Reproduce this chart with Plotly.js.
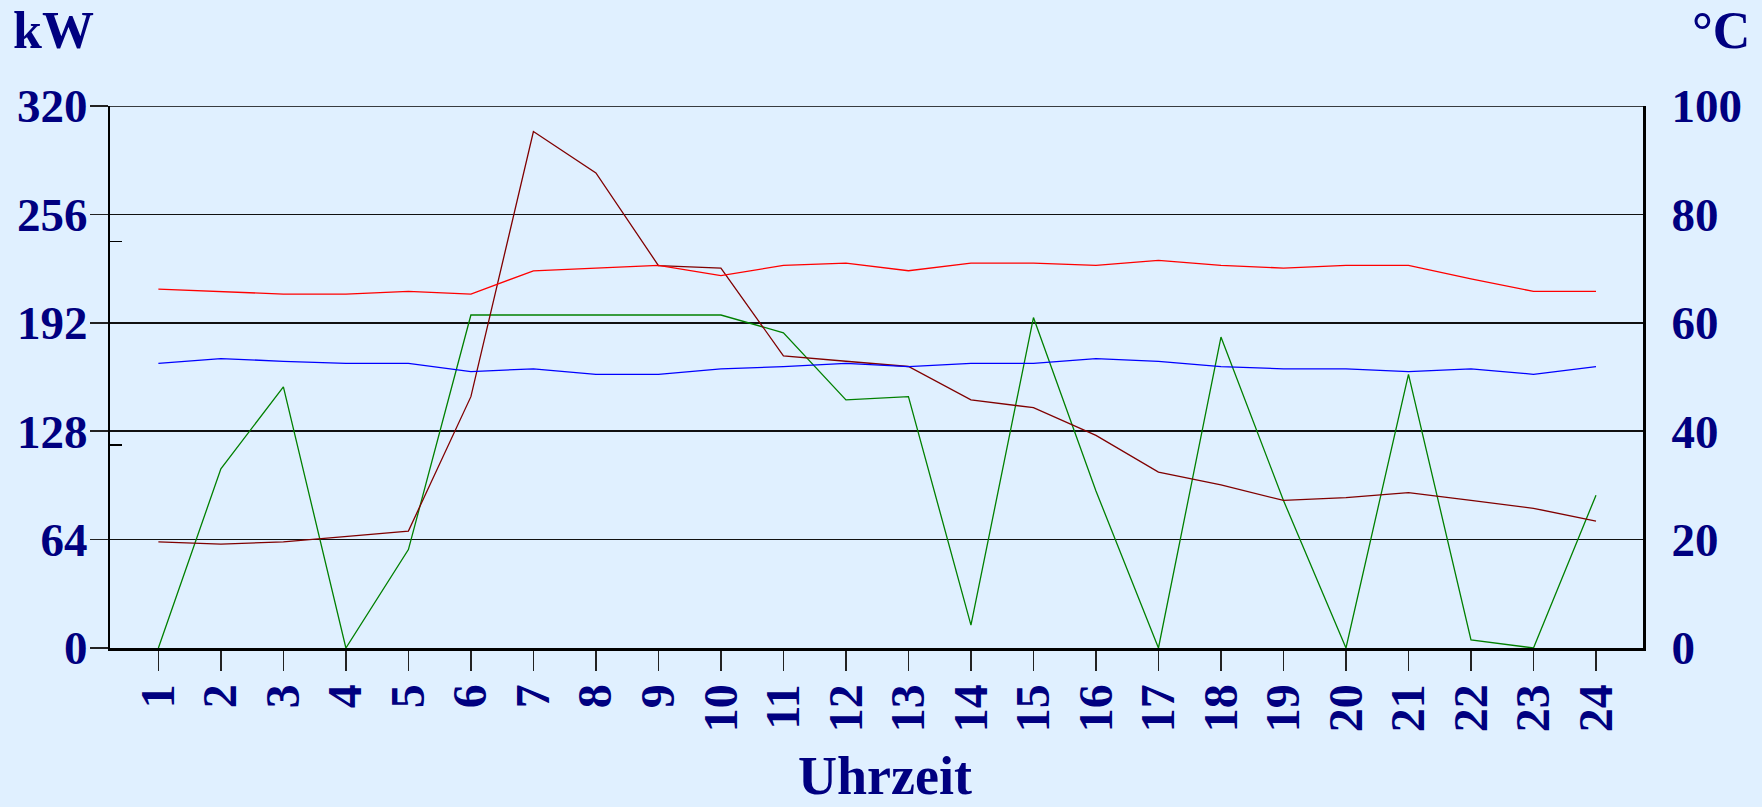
<!DOCTYPE html>
<html>
<head>
<meta charset="utf-8">
<script src="https://cdn.plot.ly/plotly-3.0.1.min.js"></script>
<style>
  html, body { margin: 0; padding: 0; background: #E0F0FF; }
  #chart { width: 1762px; height: 807px; }
</style>
</head>
<body>
<div id="chart"></div>
<script>
// ---- data ----
const hours = [1, 2, 3, 4, 5, 6, 7, 8, 9, 10, 11, 12, 13, 14, 15, 16, 17, 18, 19, 20, 21, 22, 23, 24];
const hourLabels = ["1","2","3","4","5","6","7","8","9","10","11","12","13","14","15","16","17","18","19","20","21","22","23","24"];

// kW (left axis)
const powerDarkRed = [62.7, 61.3, 62.7, 65.9, 69.0, 148.4, 304.9, 280.5, 225.8, 224.3, 172.5, 169.3,
                      166.2, 146.5, 141.9, 125.5, 103.9, 96.3, 87.1, 88.8, 91.7, 87.1, 82.5, 74.9];
const powerGreen = [0, 105.8, 154.2, 0, 58.1, 196.6, 196.6, 196.6, 196.6, 196.6, 186.1, 146.5,
                    148.4, 13.5, 195.1, 92.7, 0, 183.6, 87.1, 0, 161.6, 4.8, 0, 90.2];

// °C (right axis)
const tempRed = [66.2, 65.8, 65.3, 65.3, 65.8, 65.3, 69.6, 70.1, 70.6, 68.7, 70.6, 71.0,
                 69.6, 71.0, 71.0, 70.6, 71.5, 70.6, 70.1, 70.6, 70.6, 68.1, 65.8, 65.8];
const tempBlue = [52.5, 53.4, 52.9, 52.5, 52.5, 51.0, 51.5, 50.5, 50.5, 51.5, 51.9, 52.5,
                  51.9, 52.5, 52.5, 53.4, 52.9, 51.9, 51.5, 51.5, 51.0, 51.5, 50.5, 51.9];

const kwTicks = [0, 64, 128, 192, 256, 320];
const kwTickLabels = ["0", "64", "128", "192", "256", "320"];
const kwMinorTicks = [120, 240];
const kwMax = 320;
const degTicks = [0, 20, 40, 60, 80, 100];
const degTickLabels = ["0", "20", "40", "60", "80", "100"];

const unitLeft = "kW";
const unitRight = "°C";
const xTitle = "Uhrzeit";

// ---- chart ----
const NAVY = "#000080";
const FONT = "Liberation Serif, Times New Roman, serif";

const traces = [
  { x: hours, y: tempRed,  yaxis: "y2", mode: "lines", line: { color: "#FF0000", width: 1.3 }, hoverinfo: "skip" },
  { x: hours, y: tempBlue, yaxis: "y2", mode: "lines", line: { color: "#0000FF", width: 1.3 }, hoverinfo: "skip" },
  { x: hours, y: powerGreen, yaxis: "y", mode: "lines", line: { color: "#008000", width: 1.3 }, hoverinfo: "skip" },
  { x: hours, y: powerDarkRed, yaxis: "y", mode: "lines", line: { color: "#800000", width: 1.3 }, hoverinfo: "skip" }
];

const layout = {
  width: 1762, height: 807, autosize: false,
  paper_bgcolor: "#E0F0FF", plot_bgcolor: "#E0F0FF",
  showlegend: false,
  margin: { l: 110, r: 119, t: 106, b: 159, pad: 0 },
  font: { family: FONT, color: NAVY },
  xaxis: {
    range: [0.226, 24.752], tickmode: "array", tickvals: hours, ticktext: hourLabels,
    tickangle: -90, ticks: "outside", ticklen: 20, tickwidth: 1.5, tickcolor: "#222",
    showline: true, linecolor: "#000", linewidth: 3, showgrid: false, zeroline: false,
    tickfont: { family: FONT, size: 48, color: NAVY, weight: "bold" },
    ticklabelstandoff: -6, fixedrange: true
  },
  yaxis: {
    range: [0, kwMax], tickmode: "array", tickvals: kwTicks, ticktext: kwTickLabels,
    ticks: "outside", ticklen: 18, tickwidth: 1.5, tickcolor: "#222",
    showline: true, linecolor: "#000", linewidth: 2, zeroline: false,
    showgrid: true, gridcolor: "#111", gridwidth: 1.5,
    tickfont: { family: FONT, size: 47, color: NAVY, weight: "bold" },
    ticklabelstandoff: -7,
    minor: { tickmode: "array", tickvals: kwMinorTicks, ticks: "inside", ticklen: 12, tickwidth: 1.5, tickcolor: "#000", showgrid: false },
    fixedrange: true
  },
  yaxis2: {
    overlaying: "y", side: "right",
    range: [0, 100], tickmode: "array", tickvals: degTicks, ticktext: degTickLabels,
    ticks: "", showline: true, linecolor: "#000", linewidth: 3, zeroline: false, showgrid: false,
    tickfont: { family: FONT, size: 47, color: NAVY, weight: "bold" },
    ticklabelstandoff: 16, fixedrange: true
  },
  shapes: [
    { type: "line", xref: "paper", yref: "y", x0: 0, x1: 1, y0: kwMax, y1: kwMax,
      line: { color: "#000", width: 1.5 } }
  ],
  annotations: [
    { text: unitLeft, xref: "paper", yref: "paper", x: -0.0643, y: 1.140, xanchor: "left", yanchor: "middle",
      showarrow: false, font: { family: FONT, size: 52, color: NAVY, weight: "bold" } },
    { text: unitRight, xref: "paper", yref: "paper", x: 1.0307, y: 1.140, xanchor: "left", yanchor: "middle",
      showarrow: false, font: { family: FONT, size: 52, color: NAVY, weight: "bold" } },
    { text: xTitle, xref: "paper", yref: "paper", x: 0.5055, y: -0.236, xanchor: "center", yanchor: "middle",
      showarrow: false, font: { family: FONT, size: 54, color: NAVY, weight: "bold" } }
  ]
};

Plotly.newPlot("chart", traces, layout, { displayModeBar: false, staticPlot: true });
</script>
</body>
</html>
